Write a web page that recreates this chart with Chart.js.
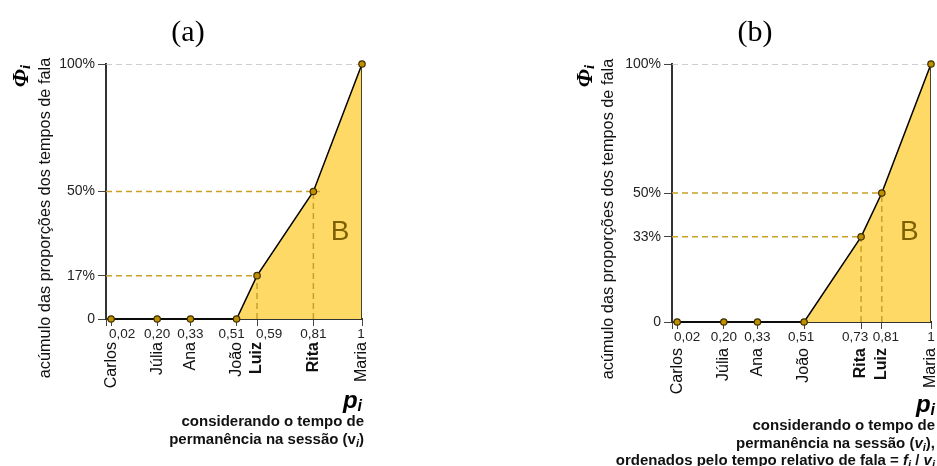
<!DOCTYPE html>
<html lang="pt">
<head>
<meta charset="utf-8">
<script src="https://cdn.jsdelivr.net/npm/chart.js@4.4.0/dist/chart.umd.min.js"></script>
<style>
body { margin: 0; background: #fff; }
#quadro { position: relative; width: 937px; height: 466px; overflow: hidden; font-family: "Liberation Sans", Arial, sans-serif; color: #000; }
.painel { position: absolute; top: 0; height: 466px; }
.txt { position: absolute; white-space: nowrap; }
.rot { transform: translate(-50%, -50%) rotate(-90deg); }
.letra { font-family: "Liberation Serif", "Times New Roman", serif; font-size: 30px; transform: translate(-50%, -50%); }
.phi { font-family: "Liberation Serif", "Times New Roman", serif; font-weight: bold; font-style: italic; font-size: 23px; }
.phi span { font-size: 15px; position: relative; top: 2px; }
.eixoy { font-size: 16.3px; color: #111; }
.pi { font-weight: bold; font-style: italic; font-size: 24px; transform: translateY(-50%); }
.pi span { font-size: 16px; position: relative; top: 3px; }
.sub { font-weight: bold; font-size: 15px; transform: translateY(-50%); color: #111; }
.sub i { font-size: 11px; position: relative; top: 3px; }
</style>
</head>
<body>
<div id="quadro">
  <div class="painel" style="left:0;width:468px"><canvas id="graficoA" width="468" height="466"></canvas></div>
  <div class="painel" style="left:468px;width:480px"><canvas id="graficoB" width="480" height="466"></canvas></div>

  <div class="txt letra" style="left:188px;top:31px">(a)</div>
  <div class="txt rot phi" style="left:21px;top:76px">Φ<span>i</span></div>
  <div class="txt rot eixoy" style="left:44px;top:218px">acúmulo das proporções dos tempos de fala</div>
  <div class="txt pi" style="right:575px;top:400px">p<span>i</span></div>
  <div class="txt sub" style="right:573px;top:420px">considerando o tempo de</div>
  <div class="txt sub" style="right:573px;top:438px">permanência na sessão (v<i>i</i>)</div>

  <div class="txt letra" style="left:755px;top:31px">(b)</div>
  <div class="txt rot phi" style="left:585px;top:76px">Φ<span>i</span></div>
  <div class="txt rot eixoy" style="left:607px;top:219px">acúmulo das proporções dos tempos de fala</div>
  <div class="txt pi" style="right:2px;top:404px">p<span>i</span></div>
  <div class="txt sub" style="right:2px;top:424px">considerando o tempo de</div>
  <div class="txt sub" style="right:2px;top:442px">permanência na sessão (<em>v</em><i>i</i>),</div>
  <div class="txt sub" style="right:2px;top:459px">ordenados pelo tempo relativo de fala = <em>f</em><i>i</i> / <em>v</em><i>i</i></div>
</div>

<script>
// (a) ordenado por p_i
const nomesA = ['Carlos', 'Júlia', 'Ana', 'João', 'Luiz', 'Rita', 'Maria'];
const pA = [0.02, 0.20, 0.33, 0.51, 0.59, 0.81, 1];
const phiA = [0, 0, 0, 0, 0.17, 0.50, 1];
const destaqueA = ['Luiz', 'Rita'];
const ticksYA = [0, 0.17, 0.50, 1];

// (b) ordenado por f_i / v_i
const nomesB = ['Carlos', 'Júlia', 'Ana', 'João', 'Rita', 'Luiz', 'Maria'];
const pB = [0.02, 0.20, 0.33, 0.51, 0.73, 0.81, 1];
const phiB = [0, 0, 0, 0, 0.33, 0.50, 1];
const destaqueB = ['Rita', 'Luiz'];
const ticksYB = [0, 0.33, 0.50, 1];

const fonte = '"Liberation Sans", Arial, sans-serif';
Chart.defaults.font.family = fonte;

function formatoP(v) {
    return v === 1 ? '1' : v.toFixed(2).replace('.', ',');
}

// rotulos numericos do eixo x (com pequenos ajustes laterais) e a letra B
const rotulosP = {
    id: 'rotulosP',
    afterDraw(chart, args, opts) {
        const esc = chart.scales.x;
        const ctx = chart.ctx;
        ctx.save();
        ctx.font = '13.5px ' + fonte;
        ctx.fillStyle = '#222';
        ctx.textAlign = 'center';
        ctx.textBaseline = 'top';
        opts.valores.forEach(function (v, i) {
            ctx.fillText(formatoP(v), esc.getPixelForValue(v) + opts.desloc[i], esc.top + 9);
        });
        ctx.font = '28px ' + fonte;
        ctx.fillStyle = '#7F6000';
        ctx.textBaseline = 'middle';
        ctx.fillText('B', chart.scales.x.getPixelForValue(opts.letra[0]), chart.scales.y.getPixelForValue(opts.letra[1]));
        ctx.restore();
    }
};

function linhasGuia(p, phi, alem) {
    const guias = [];
    p.forEach(function (v, i) {
        if (phi[i] > 0 && phi[i] < 1) {
            guias.push([{x: 0, y: phi[i]}, {x: v + (alem[i] || 0), y: phi[i]}]);
            guias.push([{x: v, y: 0}, {x: v, y: phi[i]}]);
        }
    });
    return guias;
}

function criarGrafico(id, nomes, p, phi, ticksY, destaque, lay) {
    const pontos = p.map(function (v, i) { return {x: v, y: phi[i]}; });
    const datasets = [{
        data: pontos,
        showLine: true,
        fill: 'origin',
        backgroundColor: '#FFD966',
        borderColor: '#000',
        borderWidth: 1.5,
        pointRadius: 3.2,
        pointBorderWidth: 1.2,
        pointBackgroundColor: '#BF9000',
        pointBorderColor: '#3d2e00',
        clip: false
    }, {
        data: [{x: 1, y: 0}, {x: 1, y: 1}],
        showLine: true,
        borderColor: '#111',
        borderWidth: 1.5,
        pointRadius: 0
    }, {
        data: [{x: 0, y: 1}, {x: 1, y: 1}],
        showLine: true,
        borderColor: '#BFBFBF',
        borderWidth: 1.5,
        borderDash: [6, 4],
        pointRadius: 0
    }];
    linhasGuia(p, phi, lay.alem).forEach(function (g) {
        datasets.push({
            data: g,
            showLine: true,
            borderColor: '#C9A02A',
            borderWidth: 1.5,
            borderDash: [6, 4],
            pointRadius: 0
        });
    });

    return new Chart(document.getElementById(id), {
        type: 'scatter',
        data: { datasets: datasets },
        plugins: [rotulosP],
        options: {
            responsive: false,
            animation: false,
            events: [],
            layout: { padding: lay.padding },
            plugins: {
                legend: { display: false },
                tooltip: { enabled: false },
                filler: { drawTime: 'beforeDatasetsDraw' },
                rotulosP: { valores: p, desloc: lay.desloc, letra: lay.letra }
            },
            scales: {
                x: {
                    type: 'linear',
                    min: 0,
                    max: 1,
                    position: 'bottom',
                    afterBuildTicks: function (ax) { ax.ticks = [0].concat(p).map(function (v) { return {value: v}; }); },
                    afterFit: function (ax) { ax.height = lay.alturaNum; },
                    ticks: { display: false },
                    grid: { drawOnChartArea: false, tickLength: 7, color: '#444', lineWidth: 1 },
                    border: { color: '#333', width: 2 }
                },
                nomes: {
                    type: 'linear',
                    min: 0,
                    max: 1,
                    position: 'bottom',
                    afterBuildTicks: function (ax) { ax.ticks = p.map(function (v) { return {value: v}; }); },
                    afterFit: function (ax) { ax.height = 70; },
                    grid: { display: false },
                    border: { display: false },
                    ticks: {
                        autoSkip: false,
                        minRotation: 90,
                        maxRotation: 90,
                        padding: -5,
                        color: '#111',
                        callback: function (v, i) { return nomes[i]; },
                        font: function (c) {
                            return { size: 16, weight: destaque.indexOf(nomes[c.index]) >= 0 ? 'bold' : 'normal' };
                        }
                    }
                },
                y: {
                    type: 'linear',
                    min: 0,
                    max: 1,
                    afterBuildTicks: function (ax) { ax.ticks = ticksY.map(function (v) { return {value: v}; }); },
                    afterFit: function (ax) { ax.width = 50; },
                    ticks: {
                        color: '#222',
                        padding: 3,
                        font: { size: 14 },
                        callback: function (v) { return v === 0 ? '0' : Math.round(v * 100) + '%'; }
                    },
                    grid: { drawOnChartArea: false, tickLength: 8, color: '#444', lineWidth: 1 },
                    border: { color: '#333', width: 2 }
                }
            }
        }
    });
}

criarGrafico('graficoA', nomesA, pA, phiA, ticksYA, destaqueA, {
    padding: { left: 56, right: 106, top: 64, bottom: 57 },
    alturaNum: 20,
    desloc: [11, 0, 0, -5, 12, 0, -1],
    alem: [0, 0, 0, 0, 0, 0.025, 0],
    letra: [0.914, 0.34]
});

criarGrafico('graficoB', nomesB, pB, phiB, ticksYB, destaqueB, {
    padding: { left: 154, right: 17, top: 64, bottom: 51 },
    alturaNum: 23,
    desloc: [10, 0, 0, -3, -6, 4, 0],
    alem: [0, 0, 0, 0, 0, 0, 0],
    letra: [0.916, 0.348]
});
</script>
</body>
</html>
